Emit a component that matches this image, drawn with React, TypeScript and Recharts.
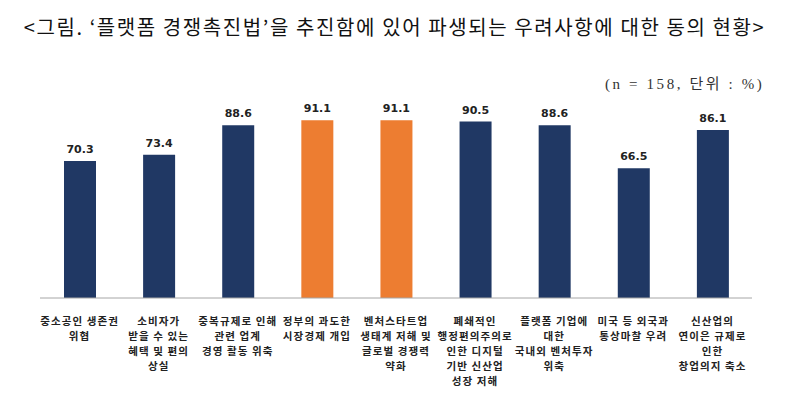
import { BarChart, Bar, XAxis, YAxis, Cell, LabelList } from 'recharts';

const categories = [
    ["중소공인 생존권", "위협"],
    ["소비자가", "받을 수 있는", "혜택 및 편의", "상실"],
    ["중복규제로 인해", "관련 업계", "경영 활동 위축"],
    ["정부의 과도한", "시장경제 개입"],
    ["벤처스타트업", "생태계 저해 및", "글로벌 경쟁력", "약화"],
    ["폐쇄적인", "행정편의주의로", "인한 디지털", "기반 신산업", "성장 저해"],
    ["플랫폼 기업에", "대한", "국내외 벤처투자", "위축"],
    ["미국 등 외국과", "통상마찰 우려"],
    ["신산업의", "연이은 규제로", "인한", "창업의지 축소"],
];
const values = [70.3, 73.4, 88.6, 91.1, 91.1, 90.5, 88.6, 66.5, 86.1];
const highlighted = [false, false, false, true, true, false, false, false, false];

const NAVY = "#203864";
const ORANGE = "#ED7D31";

const data = values.map((v, i) => ({ key: String(i), value: v }));

const CategoryTick = (props: any) => {
    const { x, y, payload } = props;
    const lines = categories[Number(payload.value)];
    return (
        <text x={x} y={y} textAnchor="middle" fontSize={10.5} fontWeight="bold" fill="#222"
            fontFamily="'Noto Sans CJK KR', sans-serif" letterSpacing={1.1}>
            {lines.map((l, i) => (
                <tspan key={i} x={x} dy={i === 0 ? 19 : 15}>{l}</tspan>
            ))}
        </text>
    );
};

export default function App() {
    return (
        <div style={{ position: "absolute", left: 0, top: 0, width: 789, height: 399, background: "#fff" }}>
            <div style={{
                position: "absolute", left: 0, top: 12, width: 789, textAlign: "center",
                fontFamily: "'Noto Sans CJK KR', sans-serif", fontSize: 20, color: "#111",
                letterSpacing: 1.6, whiteSpace: "nowrap"
            }}>
                &lt;그림. ‘플랫폼 경쟁촉진법’을 추진함에 있어 파생되는 우려사항에 대한 동의 현황&gt;
            </div>
            <div style={{
                position: "absolute", left: 605, top: 72, fontFamily: "'Liberation Serif', 'Noto Sans CJK KR', serif",
                fontSize: 15, color: "#333", letterSpacing: 2.6, whiteSpace: "pre"
            }}>
                (n = 158, 단위 : %)
            </div>
            <BarChart width={789} height={399} data={data}
                margin={{ top: 103, right: 37, bottom: 0, left: 40 }}>
                <XAxis dataKey="key" height={101} tickLine={false} interval={0}
                    axisLine={{ stroke: "#a6a6a6" }} tick={<CategoryTick />} />
                <YAxis hide domain={[0, 100]} />
                <Bar dataKey="value" barSize={32} isAnimationActive={false}>
                    {data.map((d, i) => (
                        <Cell key={d.key} fill={highlighted[i] ? ORANGE : NAVY} />
                    ))}
                    <LabelList dataKey="value" position="top" offset={8} fontSize={11}
                        fontWeight="bold" fill="#222" fontFamily="'DejaVu Sans', sans-serif"
                        formatter={(v: any) => Number(v).toFixed(1)} />
                </Bar>
            </BarChart>
        </div>
    );
}
